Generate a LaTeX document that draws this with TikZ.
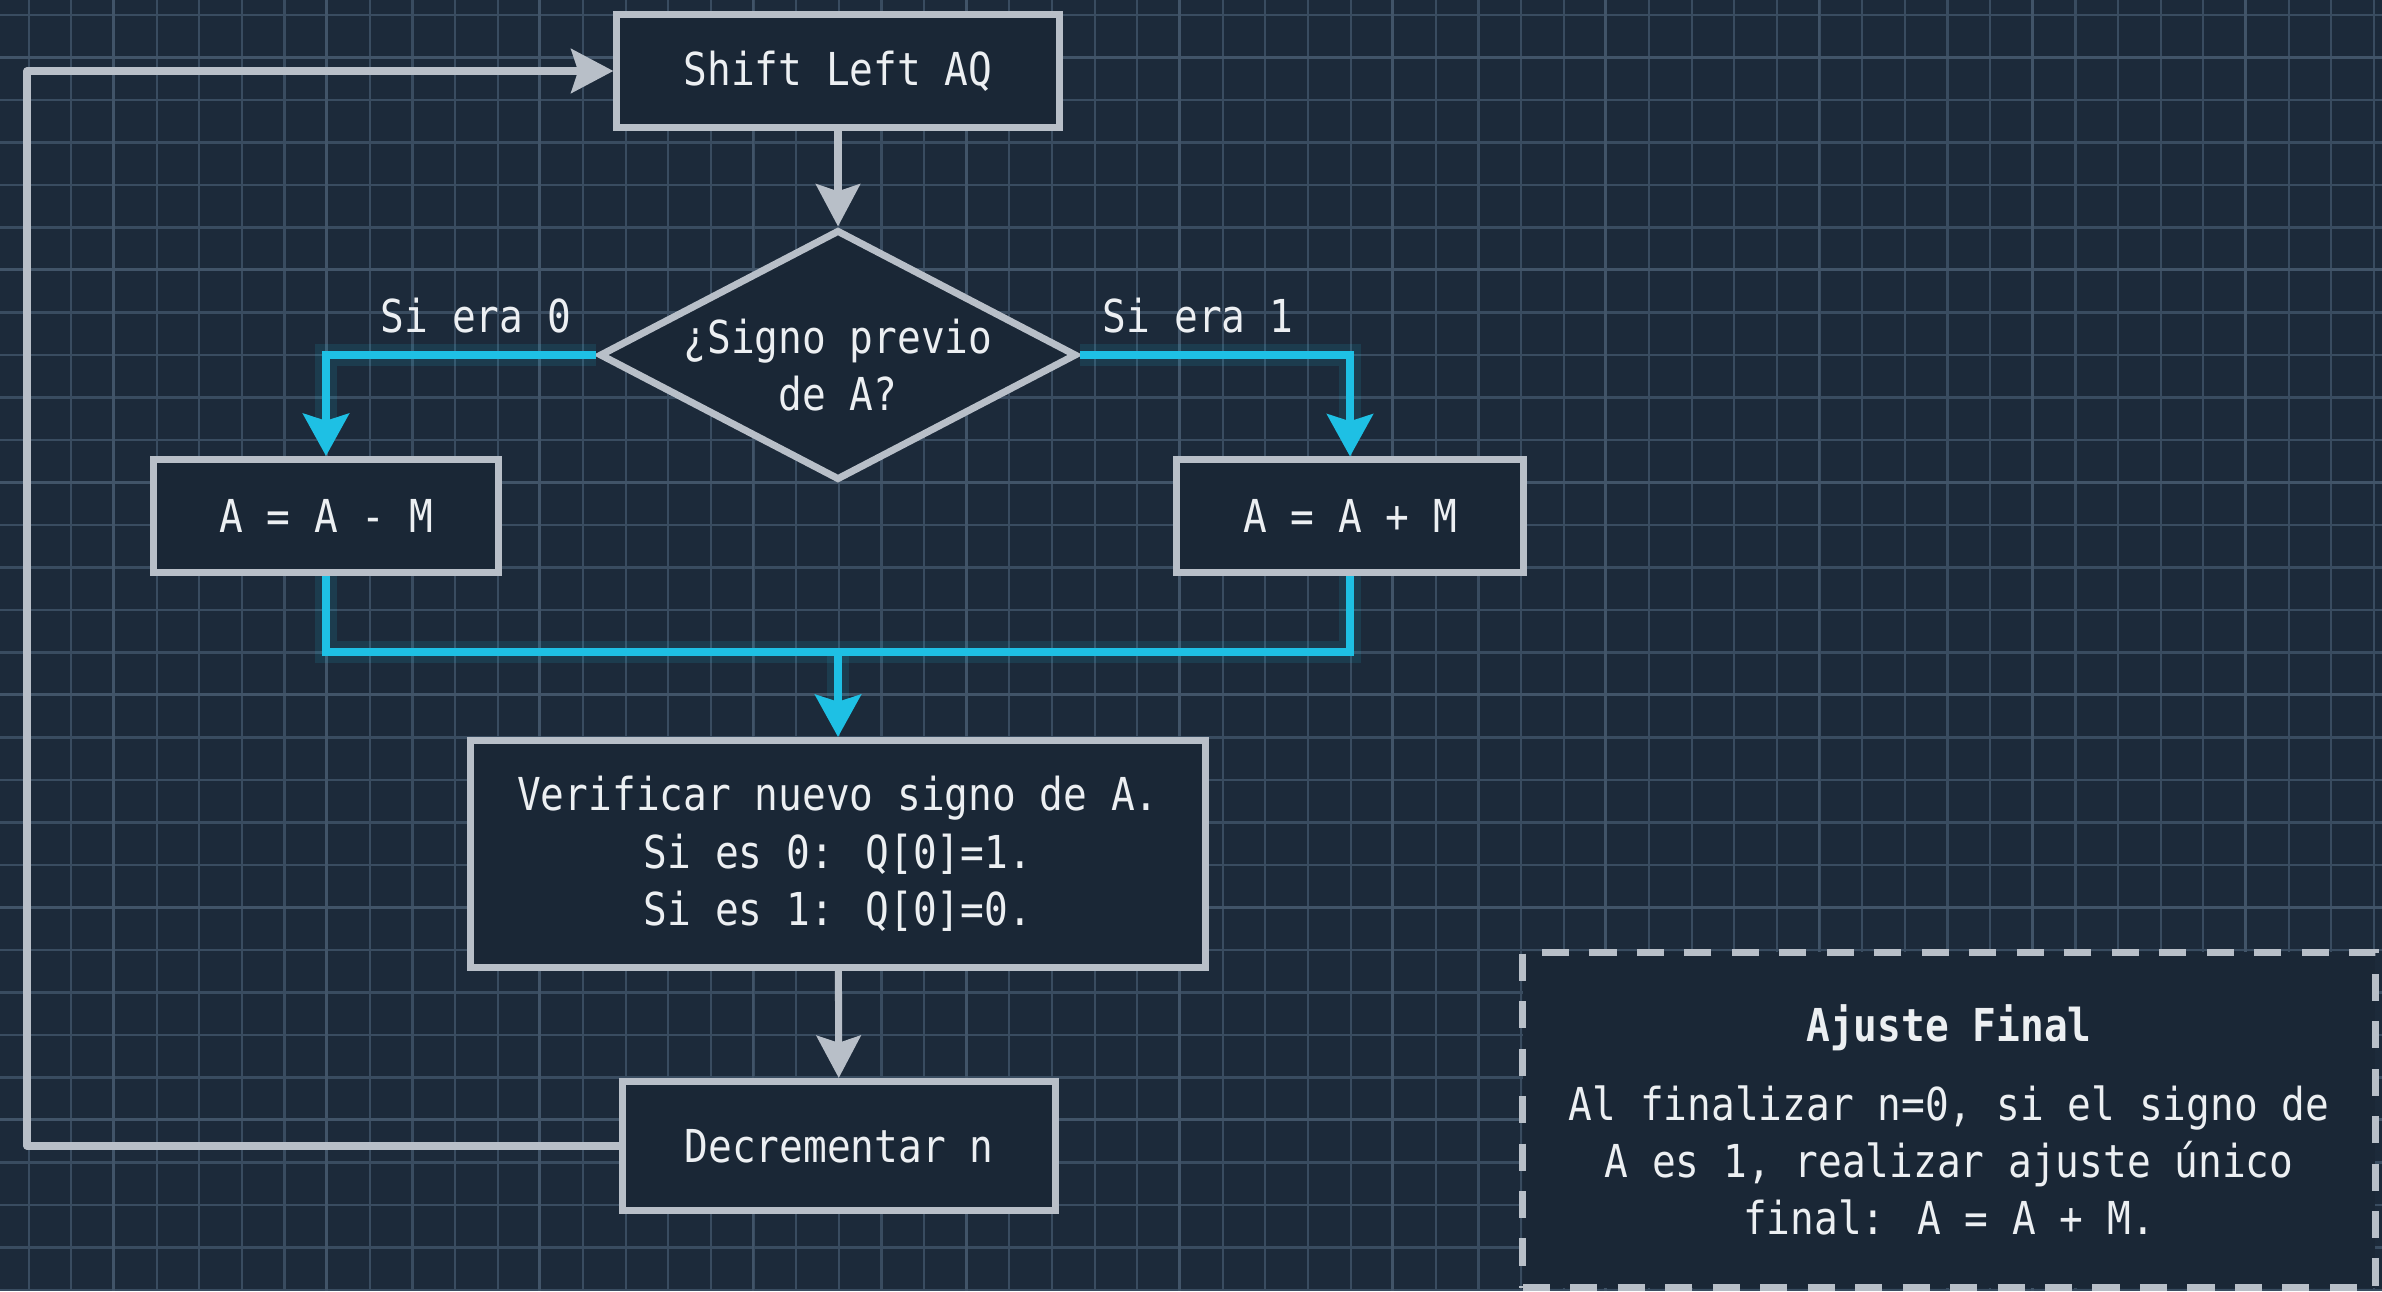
\documentclass[tikz,border=0pt]{standalone}
\usepackage{fontspec}
\newfontfamily\mono[FakeStretch=0.87]{DejaVu Sans Mono}
\usetikzlibrary{arrows.meta,shapes.geometric}

\definecolor{bgnavy}{HTML}{1C2A3A}
\definecolor{boxfill}{HTML}{1A2736}
\definecolor{gridminor}{HTML}{394C60}
\definecolor{gridmajor}{HTML}{415468}
\definecolor{edge}{HTML}{B8BFC8}
\definecolor{flow}{HTML}{1EC0E4}
\definecolor{ink}{HTML}{ECEFF2}

\tikzset{
  stepbox/.style={draw=edge, fill=boxfill, line width=2pt, text=ink, align=center, inner sep=0pt},
  decision/.style={diamond, draw=edge, fill=boxfill, line width=2pt, inner sep=0pt},
  grayline/.style={draw=edge, line width=2pt, line join=round},
  grayarrow/.style={grayline, -{Stealth[length=12pt,width=12.5pt,inset=2pt]}},
  flowline/.style={draw=flow, line width=2.1pt, preaction={draw=flow, line width=6pt, opacity=0.12}},
  flowarrow/.style={flowline, -{Stealth[length=12pt,width=13pt,inset=2pt]}},
}

\begin{document}
\begin{tikzpicture}[x=0.01cm, y=-0.01cm, font=\mono\fontsize{12.9}{16.3}\selectfont]
\useasboundingbox (0,0) rectangle (2382,1291);
\fill[bgnavy] (0,0) rectangle (2382,1291);

% blueprint grid
\foreach \i in {0,...,55}
  \draw[gridminor, line width=0.6pt] ({28.7+42.64*\i},0) -- ({28.7+42.64*\i},1291);
\foreach \j in {0,...,30}
  \draw[gridminor, line width=0.6pt] (0,{15+42.5*\j}) -- (2382,{15+42.5*\j});
\foreach \i in {0,...,10}
  \draw[gridmajor, line width=0.8pt] ({113.4+213.2*\i},0) -- ({113.4+213.2*\i},1291);
\foreach \j in {0,...,5}
  \draw[gridmajor, line width=0.8pt] (0,{57.3+212.5*\j}) -- (2382,{57.3+212.5*\j});

% steps
\node[stepbox, minimum width=4.42cm, minimum height=1.12cm] (shift) at (838,71) {Shift Left AQ};
\node[decision, minimum width=4.77cm, minimum height=2.50cm] (cond) at (838,355) {};
\node[text=ink, align=center] (condtxt) at (838,365) {¿Signo previo\\de A?};
\node[stepbox, minimum width=3.45cm, minimum height=1.13cm] (sub) at (326,516) {A = A - M};
\node[stepbox, minimum width=3.46cm, minimum height=1.12cm] (add) at (1350,516) {A = A + M};
\node[stepbox, minimum width=7.35cm, minimum height=2.27cm] (verify) at (838,854)
  {Verificar nuevo signo de A.\\Si es 0: Q[0]=1.\\Si es 1: Q[0]=0.};
\node[stepbox, minimum width=4.32cm, minimum height=1.29cm] (dec) at (839,1146) {Decrementar n};
\node[stepbox, dash pattern=on 7.7pt off 5.8pt, minimum width=8.52cm, minimum height=3.35cm] (note) at (1949,1120)
  {\textbf{Ajuste Final}\\[6pt]Al finalizar n=0, si el signo de\\A es 1, realizar ajuste único\\final: A = A + M.};

\node[text=ink, anchor=base] (lbl0) at (476,332) {Si era 0};
\node[text=ink, anchor=base] (lbl1) at (1198,332) {Si era 1};

\coordinate (join) at (838,652);
\coordinate (back) at (27,1146);

% connectors
\draw[grayarrow] (shift) -- (cond);
\draw[flowarrow] (cond.west) -| (sub.north);
\draw[flowarrow] (cond.east) -| (add.north);
\draw[flowline] (sub.south) |- (join) -| (add.south);
\draw[flowarrow] (join) -- (verify.north);
\draw[grayarrow] (verify) -- (dec);
\draw[grayarrow] (dec.west) -- (back) |- (shift.west);
\end{tikzpicture}
\end{document}
